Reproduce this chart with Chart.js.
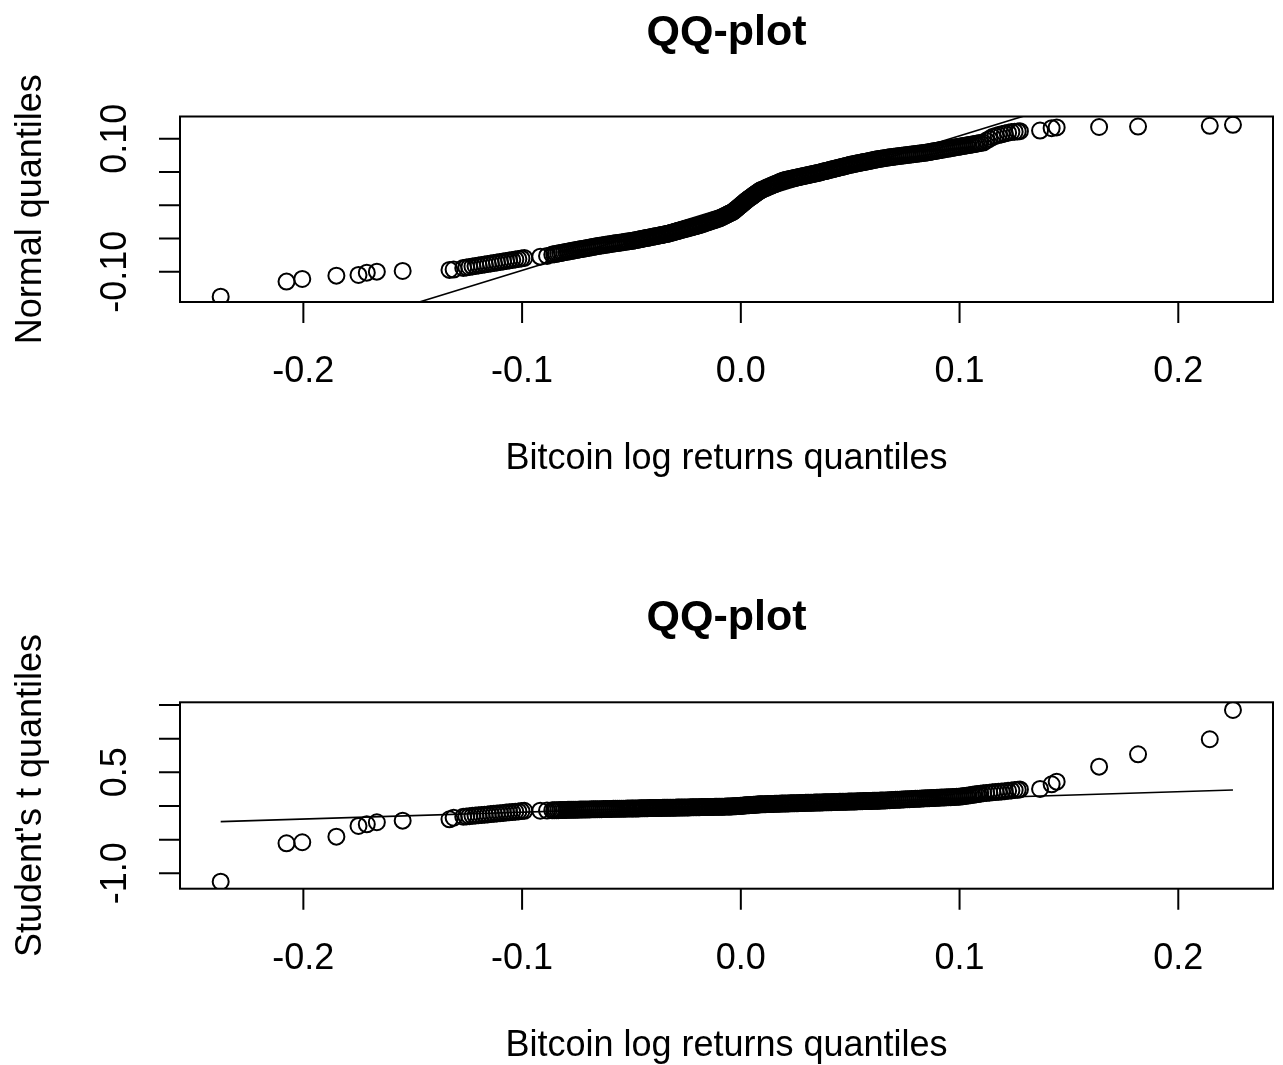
<!DOCTYPE html>
<html>
<head>
<meta charset="utf-8">
<script src="https://cdn.jsdelivr.net/npm/chart.js@4/dist/chart.umd.min.js"></script>
<style>
  html, body { margin: 0; padding: 0; background: #fff; }
  #wrap { position: relative; width: 1283px; height: 1065px; overflow: hidden; }
  #wrap canvas { position: absolute; left: 0; }
</style>
</head>
<body>
<div id="wrap">
  <canvas id="qqNormal" width="1283" height="586" style="top:0px"></canvas>
  <canvas id="qqStudent" width="1283" height="479" style="top:586px"></canvas>
</div>
<script>
// Sorted Bitcoin daily log returns (sample quantiles), shared by both panels
const returnQuantiles = [
  // lower tail
  -0.2378, -0.2077, -0.2005, -0.1849, -0.1748, -0.1710, -0.1664, -0.1546, -0.1332, -0.1313,
  -0.1269, -0.1255, -0.1241, -0.1227, -0.1213, -0.1199, -0.1185, -0.1171, -0.1157, -0.1143,
  -0.1129, -0.1115, -0.1101, -0.1087, -0.1073, -0.1059, -0.1045, -0.1031, -0.1017, -0.1003, -0.0990,
  -0.0917, -0.0886,
  // body
  -0.0862, -0.0853, -0.0844, -0.0835, -0.0826, -0.0817, -0.0808, -0.0799, -0.0790, -0.0781,
  -0.0772, -0.0763, -0.0754, -0.0745, -0.0736, -0.0727, -0.0718, -0.0709, -0.0700, -0.0691,
  -0.0682, -0.0673, -0.0664, -0.0655, -0.0646, -0.0637, -0.0628, -0.0619, -0.0610, -0.0601,
  -0.0592, -0.0583, -0.0574, -0.0565, -0.0556, -0.0547, -0.0538, -0.0529, -0.0520, -0.0511, -0.0502,
  -0.0496, -0.0489, -0.0482, -0.0475, -0.0468, -0.0461, -0.0454, -0.0447, -0.0440, -0.0433,
  -0.0426, -0.0419, -0.0412, -0.0405, -0.0398, -0.0391, -0.0384, -0.0377, -0.0370, -0.0363,
  -0.0356, -0.0349, -0.0342, -0.0335, -0.0328, -0.0321, -0.0314, -0.0307, -0.0300, -0.0293,
  -0.0286, -0.0279, -0.0272, -0.0265, -0.0258, -0.0251, -0.0244, -0.0237, -0.0230, -0.0223,
  -0.0216, -0.0209, -0.0202, -0.0195, -0.0188, -0.0181, -0.0174, -0.0167, -0.0160, -0.0153,
  -0.0146, -0.0139, -0.0132, -0.0125, -0.0118, -0.0111, -0.0104, -0.0097, -0.0090, -0.0083,
  -0.0076, -0.0069, -0.0062,
  -0.0057, -0.0052, -0.0047, -0.0042, -0.0037, -0.0032, -0.0027, -0.0022, -0.0017, -0.0012,
  -0.0007, -0.0002, 0.0003, 0.0008, 0.0013, 0.0018, 0.0023, 0.0028, 0.0033, 0.0038,
  0.0043, 0.0048, 0.0053, 0.0058, 0.0063, 0.0068, 0.0073, 0.0078, 0.0083, 0.0088, 0.0093,
  0.0100, 0.0107, 0.0114, 0.0121, 0.0128, 0.0135, 0.0142, 0.0149, 0.0156, 0.0163,
  0.0170, 0.0177, 0.0184, 0.0191, 0.0198, 0.0205, 0.0212, 0.0219, 0.0226, 0.0233,
  0.0240, 0.0247, 0.0254, 0.0261, 0.0268, 0.0275, 0.0282, 0.0289, 0.0296, 0.0303,
  0.0310, 0.0317, 0.0324, 0.0331, 0.0338, 0.0345, 0.0352, 0.0359, 0.0366, 0.0373,
  0.0380, 0.0387, 0.0394, 0.0401, 0.0408, 0.0415, 0.0422, 0.0429, 0.0436, 0.0443,
  0.0450, 0.0457, 0.0464, 0.0471, 0.0478, 0.0485, 0.0492, 0.0499, 0.0506, 0.0513,
  0.0520, 0.0527, 0.0534, 0.0541, 0.0548, 0.0555, 0.0562, 0.0569, 0.0576, 0.0583,
  0.0590, 0.0597, 0.0604, 0.0611, 0.0618, 0.0625, 0.0632, 0.0639, 0.0646,
  0.0654, 0.0663, 0.0672, 0.0681, 0.0690, 0.0699, 0.0708, 0.0717, 0.0726, 0.0735,
  0.0744, 0.0753, 0.0762, 0.0771, 0.0780, 0.0789, 0.0798, 0.0807, 0.0816, 0.0825,
  0.0834, 0.0843, 0.0852, 0.0861, 0.0870, 0.0879, 0.0888, 0.0897, 0.0906, 0.0915,
  0.0924, 0.0933, 0.0942, 0.0951, 0.0960, 0.0969, 0.0978, 0.0987, 0.0996, 0.1005,
  0.1014, 0.1023, 0.1032, 0.1041, 0.1050, 0.1059, 0.1068, 0.1077, 0.1086, 0.1095,
  0.1108, 0.1122, 0.1136, 0.1150, 0.1164, 0.1178, 0.1192, 0.1207, 0.1222, 0.1237,
  0.1252, 0.1266, 0.1276,
  // upper tail
  0.1368, 0.1421, 0.1444, 0.1638, 0.1816, 0.2144, 0.2250
];

// Matching Normal quantiles (same ranks)
const normalQuantiles = [
  -0.1377, -0.1150, -0.1110, -0.1060, -0.1050, -0.1015, -0.1000, -0.0990, -0.0974, -0.0968,
  -0.0944, -0.0936, -0.0929, -0.0921, -0.0914, -0.0906, -0.0899, -0.0891, -0.0884, -0.0876,
  -0.0869, -0.0861, -0.0854, -0.0846, -0.0839, -0.0831, -0.0824, -0.0816, -0.0809, -0.0801, -0.0794,
  -0.0774, -0.0763,
  -0.0742, -0.0737, -0.0731, -0.0725, -0.0720, -0.0714, -0.0708, -0.0703, -0.0697, -0.0692,
  -0.0686, -0.0681, -0.0675, -0.0670, -0.0664, -0.0659, -0.0654, -0.0648, -0.0643, -0.0637,
  -0.0632, -0.0626, -0.0621, -0.0615, -0.0610, -0.0605, -0.0601, -0.0596, -0.0592, -0.0587,
  -0.0583, -0.0578, -0.0574, -0.0569, -0.0565, -0.0560, -0.0556, -0.0551, -0.0547, -0.0542, -0.0538,
  -0.0536, -0.0531, -0.0526, -0.0522, -0.0517, -0.0513, -0.0508, -0.0504, -0.0499, -0.0495,
  -0.0490, -0.0485, -0.0481, -0.0476, -0.0472, -0.0467, -0.0463, -0.0458, -0.0453, -0.0449,
  -0.0444, -0.0440, -0.0435, -0.0430, -0.0424, -0.0418, -0.0411, -0.0405, -0.0399, -0.0392,
  -0.0386, -0.0380, -0.0373, -0.0367, -0.0361, -0.0355, -0.0348, -0.0342, -0.0336, -0.0329,
  -0.0323, -0.0317, -0.0310, -0.0304, -0.0298, -0.0290, -0.0283, -0.0275, -0.0267, -0.0259,
  -0.0252, -0.0244, -0.0236, -0.0228, -0.0221, -0.0213, -0.0205, -0.0197, -0.0187, -0.0175,
  -0.0164, -0.0152, -0.0141,
  -0.0132, -0.0124, -0.0116, -0.0108, -0.0099, -0.0088, -0.0074, -0.0060, -0.0046, -0.0032,
  -0.0019, -0.0005, 0.0009, 0.0023, 0.0037, 0.0051, 0.0064, 0.0078, 0.0090, 0.0102,
  0.0114, 0.0126, 0.0138, 0.0150, 0.0162, 0.0174, 0.0185, 0.0197, 0.0209, 0.0221, 0.0228,
  0.0238, 0.0248, 0.0258, 0.0269, 0.0279, 0.0289, 0.0299, 0.0309, 0.0319, 0.0329,
  0.0339, 0.0349, 0.0359, 0.0369, 0.0376, 0.0381, 0.0386, 0.0391, 0.0396, 0.0401,
  0.0406, 0.0411, 0.0416, 0.0421, 0.0426, 0.0431, 0.0436, 0.0441, 0.0446, 0.0451,
  0.0456, 0.0461, 0.0466, 0.0471, 0.0476, 0.0481, 0.0486, 0.0492, 0.0498, 0.0504,
  0.0510, 0.0515, 0.0521, 0.0527, 0.0533, 0.0539, 0.0544, 0.0550, 0.0556, 0.0562,
  0.0568, 0.0573, 0.0579, 0.0585, 0.0591, 0.0596, 0.0602, 0.0608, 0.0613, 0.0617,
  0.0622, 0.0627, 0.0632, 0.0636, 0.0641, 0.0646, 0.0650, 0.0655, 0.0660, 0.0664,
  0.0669, 0.0674, 0.0679, 0.0683, 0.0688, 0.0693, 0.0697, 0.0701, 0.0705,
  0.0709, 0.0713, 0.0718, 0.0722, 0.0726, 0.0731, 0.0735, 0.0738, 0.0742, 0.0746,
  0.0750, 0.0753, 0.0757, 0.0761, 0.0765, 0.0768, 0.0772, 0.0776, 0.0780, 0.0784,
  0.0787, 0.0791, 0.0795, 0.0801, 0.0806, 0.0811, 0.0817, 0.0822, 0.0827, 0.0833,
  0.0838, 0.0843, 0.0849, 0.0854, 0.0859, 0.0864, 0.0870, 0.0875, 0.0880, 0.0886,
  0.0891, 0.0896, 0.0901, 0.0906, 0.0911, 0.0916, 0.0921, 0.0927, 0.0932, 0.0937,
  0.0944, 0.0972, 0.0999, 0.1027, 0.1044, 0.1056, 0.1068, 0.1080, 0.1093, 0.1102,
  0.1107, 0.1112, 0.1115,
  0.1125, 0.1160, 0.1172, 0.1178, 0.1185, 0.1196, 0.1211
];

// Matching Student's t quantiles (same ranks)
const studentQuantiles = [
  -1.125, -0.554, -0.539, -0.456, -0.297, -0.272, -0.242, -0.218, -0.198, -0.174,
  -0.160, -0.156, -0.151, -0.147, -0.142, -0.138, -0.134, -0.129, -0.125, -0.120,
  -0.116, -0.112, -0.107, -0.103, -0.098, -0.094, -0.090, -0.085, -0.081, -0.076, -0.072,
  -0.070, -0.068,
  -0.064, -0.063, -0.063, -0.062, -0.061, -0.061, -0.060, -0.059, -0.058, -0.058,
  -0.057, -0.056, -0.056, -0.055, -0.054, -0.054, -0.053, -0.052, -0.051, -0.051,
  -0.050, -0.049, -0.049, -0.048, -0.047, -0.047, -0.046, -0.045, -0.045, -0.044,
  -0.044, -0.043, -0.043, -0.042, -0.041, -0.041, -0.040, -0.040, -0.039, -0.038, -0.038,
  -0.037, -0.037, -0.036, -0.036, -0.036, -0.035, -0.035, -0.034, -0.034, -0.033,
  -0.033, -0.032, -0.032, -0.031, -0.031, -0.030, -0.030, -0.030, -0.029, -0.029,
  -0.028, -0.028, -0.027, -0.027, -0.026, -0.026, -0.026, -0.025, -0.025, -0.024,
  -0.024, -0.023, -0.023, -0.022, -0.022, -0.022, -0.021, -0.021, -0.020, -0.020,
  -0.019, -0.019, -0.019, -0.018, -0.018, -0.017, -0.017, -0.016, -0.016, -0.016,
  -0.015, -0.015, -0.014, -0.014, -0.013, -0.013, -0.013, -0.012, -0.012, -0.011,
  -0.010, -0.009, -0.009,
  -0.008, -0.008, -0.007, -0.007, -0.006, -0.005, -0.004, -0.003, -0.002, 0.000,
  0.001, 0.002, 0.004, 0.005, 0.006, 0.007, 0.009, 0.010, 0.011, 0.012,
  0.013, 0.015, 0.016, 0.017, 0.018, 0.019, 0.020, 0.022, 0.023, 0.024, 0.025,
  0.025, 0.026, 0.027, 0.028, 0.029, 0.029, 0.030, 0.031, 0.032, 0.033,
  0.033, 0.034, 0.035, 0.036, 0.036, 0.037, 0.038, 0.038, 0.039, 0.040,
  0.040, 0.041, 0.042, 0.042, 0.043, 0.044, 0.044, 0.045, 0.046, 0.047,
  0.047, 0.048, 0.049, 0.049, 0.050, 0.051, 0.051, 0.052, 0.053, 0.053,
  0.054, 0.055, 0.055, 0.056, 0.057, 0.057, 0.058, 0.059, 0.059, 0.060,
  0.061, 0.061, 0.062, 0.063, 0.063, 0.064, 0.065, 0.066, 0.066, 0.067,
  0.068, 0.068, 0.069, 0.070, 0.070, 0.071, 0.072, 0.072, 0.073, 0.074,
  0.075, 0.075, 0.076, 0.077, 0.077, 0.078, 0.079, 0.080, 0.081,
  0.082, 0.083, 0.085, 0.086, 0.088, 0.089, 0.091, 0.092, 0.094, 0.095,
  0.097, 0.098, 0.100, 0.101, 0.103, 0.104, 0.106, 0.107, 0.108, 0.110,
  0.111, 0.113, 0.114, 0.116, 0.117, 0.119, 0.120, 0.121, 0.123, 0.124,
  0.126, 0.127, 0.129, 0.130, 0.131, 0.133, 0.134, 0.136, 0.137, 0.139,
  0.144, 0.148, 0.152, 0.157, 0.161, 0.165, 0.170, 0.174, 0.178, 0.183,
  0.189, 0.193, 0.197, 0.202, 0.206, 0.210, 0.214, 0.219, 0.225, 0.230,
  0.236, 0.241, 0.246,
  0.253, 0.322, 0.361, 0.584, 0.768, 0.991, 1.426
];

// Reference lines (end points over the range of the returns)
const normalLineX = [-0.2378, 0.2250];
const normalLineY = [-0.2377, 0.2311];
const studentLineX = [-0.2378, 0.2250];
const studentLineY = [-0.233, 0.238];

// Axis ranges
const xRange = [-0.2564, 0.2433];
const normalRange = [-0.1457, 0.1336];
const studentRange = [-1.229, 1.540];

// Tick positions and the labels printed at them
const xTicks = [-0.2, -0.1, 0.0, 0.1, 0.2];
const xTickLabels = ['-0.2', '-0.1', '0.0', '0.1', '0.2'];
const normalTicks = [-0.10, -0.05, 0.00, 0.05, 0.10];
const normalTickLabels = ['-0.10', '', '', '', '0.10'];
const studentTicks = [-1.0, -0.5, 0.0, 0.5, 1.0, 1.5];
const studentTickLabels = ['-1.0', '', '', '0.5', '', ''];

const FONT = '"Liberation Sans", Arial, Helvetica, sans-serif';

function toPoints(xs, ys) {
  if (xs.length !== ys.length) console.warn('length mismatch', xs.length, ys.length);
  return xs.map((v, i) => ({ x: v, y: ys[i] }));
}

// Base-graphics style frame: box, outward ticks, labels and titles
const baseFrame = {
  id: 'baseFrame',
  afterDatasetsDraw(chart, args, opts) {
    const { ctx, chartArea: a } = chart;
    const xs = chart.scales.x, ys = chart.scales.y;
    const tick = 21;
    ctx.save();
    ctx.strokeStyle = '#000';
    ctx.fillStyle = '#000';
    ctx.lineWidth = 2;
    ctx.strokeRect(a.left, a.top, a.right - a.left, a.bottom - a.top);

    ctx.beginPath();
    opts.xTicks.forEach(v => {
      const px = xs.getPixelForValue(v);
      ctx.moveTo(px, a.bottom);
      ctx.lineTo(px, a.bottom + tick);
    });
    opts.yTicks.forEach(v => {
      const py = ys.getPixelForValue(v);
      ctx.moveTo(a.left, py);
      ctx.lineTo(a.left - tick, py);
    });
    ctx.stroke();

    ctx.font = '36px ' + FONT;
    ctx.textAlign = 'center';
    ctx.textBaseline = 'alphabetic';
    opts.xTicks.forEach((v, i) => {
      ctx.fillText(opts.xLabels[i], xs.getPixelForValue(v), a.bottom + 80);
    });
    opts.yTicks.forEach((v, i) => {
      const lab = opts.yLabels[i];
      if (!lab) return;
      ctx.save();
      ctx.translate(a.left - 54, ys.getPixelForValue(v));
      ctx.rotate(-Math.PI / 2);
      ctx.fillText(lab, 0, 0);
      ctx.restore();
    });

    const cx = (a.left + a.right) / 2;
    const cy = (a.top + a.bottom) / 2;
    ctx.fillText(opts.xTitle, cx, a.bottom + 167);
    ctx.save();
    ctx.translate(a.left - 139, cy);
    ctx.rotate(-Math.PI / 2);
    ctx.fillText(opts.yTitle, 0, 0);
    ctx.restore();

    ctx.font = 'bold 43px ' + FONT;
    ctx.fillText(opts.title, cx, a.top - 72);
    ctx.restore();
  }
};

function makeQQ(canvasId, ys, lineX, lineY, yRange, yTicks, yLabels, yTitle, padding) {
  return new Chart(document.getElementById(canvasId), {
    type: 'scatter',
    data: {
      datasets: [
        {
          data: toPoints(returnQuantiles, ys),
          showLine: false,
          pointStyle: 'circle',
          pointRadius: 8,
          pointBorderWidth: 2,
          pointBorderColor: '#000',
          pointBackgroundColor: 'rgba(0,0,0,0)',
          clip: 0
        },
        {
          data: toPoints(lineX, lineY),
          showLine: true,
          borderColor: '#000',
          borderWidth: 1.6,
          pointRadius: 0,
          fill: false,
          clip: 0
        }
      ]
    },
    options: {
      responsive: false,
      animation: false,
      devicePixelRatio: 1,
      events: [],
      layout: { padding: padding },
      scales: {
        x: { type: 'linear', display: false, min: xRange[0], max: xRange[1] },
        y: { type: 'linear', display: false, min: yRange[0], max: yRange[1] }
      },
      plugins: {
        legend: { display: false },
        tooltip: { enabled: false },
        baseFrame: {
          title: 'QQ-plot',
          xTitle: 'Bitcoin log returns quantiles',
          yTitle: yTitle,
          xTicks: xTicks,
          xLabels: xTickLabels,
          yTicks: yTicks,
          yLabels: yLabels
        }
      }
    },
    plugins: [baseFrame]
  });
}

makeQQ('qqNormal', normalQuantiles, normalLineX, normalLineY, normalRange,
  normalTicks, normalTickLabels, 'Normal quantiles',
  { left: 180, right: 10, top: 116.5, bottom: 284 });

makeQQ('qqStudent', studentQuantiles, studentLineX, studentLineY, studentRange,
  studentTicks, studentTickLabels, "Student's t quantiles",
  { left: 180, right: 10, top: 116.3, bottom: 176.3 });
</script>
</body>
</html>
